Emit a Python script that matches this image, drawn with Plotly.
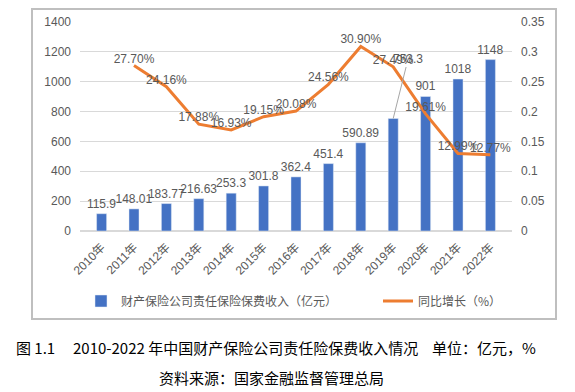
import plotly.graph_objects as go

years = ["2010年", "2011年", "2012年", "2013年", "2014年", "2015年", "2016年",
         "2017年", "2018年", "2019年", "2020年", "2021年", "2022年"]
premium = [115.9, 148.01, 183.77, 216.63, 253.3, 301.8, 362.4, 451.4, 590.89,
           753.3, 901, 1018, 1148]
premium_labels = ["115.9", "148.01", "183.77", "216.63", "253.3", "301.8", "362.4",
                  "451.4", "590.89", "", "901", "1018", "1148"]
growth = [None, 0.2770, 0.2416, 0.1788, 0.1693, 0.1915, 0.2008, 0.2456, 0.3090,
          0.2749, 0.1961, 0.1299, 0.1277]
growth_labels = ["", "27.70%", "24.16%", "17.88%", "16.93%", "19.15%", "20.08%",
                 "24.56%", "30.90%", "27.49%", "19.61%", "12.99%", "12.77%"]

FONT = "Liberation Sans, Noto Sans CJK SC, sans-serif"
CJK = "Noto Sans CJK SC, sans-serif"
GRAY = "#595959"

# plot area on the page: x 80..512, y 22..231
def px(x):
    return (x - 80) / 432

def py(y):
    return (231 - y) / 209

fig = go.Figure()
fig.add_trace(go.Bar(
    x=years, y=premium, name="财产保险公司责任保险保费收入（亿元）",
    marker_color="#4472C4", width=0.31,
    text=premium_labels, textposition="outside", cliponaxis=False,
    constraintext="none", legend="legend",
    textfont=dict(size=12, color=GRAY, family=FONT),
))
fig.add_trace(go.Scatter(
    x=years, y=growth, name="同比增长（%）", yaxis="y2",
    mode="lines+text", line=dict(color="#ED7D31", width=3),
    text=growth_labels, textposition="top center", cliponaxis=False,
    legend="legend2",
    textfont=dict(size=12, color=GRAY, family=FONT),
))

fig.add_annotation(
    x=years[9], y=premium[9], xref="x", yref="y", text="753.3",
    showarrow=True, arrowhead=0, arrowwidth=1, arrowcolor="#a6a6a6",
    ax=15, ay=-60, font=dict(size=12, color=GRAY, family=FONT),
)

# chart border
fig.add_shape(type="rect", xref="paper", yref="paper",
              x0=px(32), x1=px(556), y0=py(319), y1=py(9),
              line=dict(color="#bfbfbf", width=2), fillcolor="rgba(0,0,0,0)",
              layer="above")

cap_font = dict(size=15, color="#000000", family=CJK)
for txt, x0 in [("图 1.1", 15), ("2010-2022 年中国财产保险公司责任险保费收入情况", 72),
                ("单位：亿元，%", 431)]:
    fig.add_annotation(xref="paper", yref="paper", x=px(x0), y=py(347),
                       xanchor="left", yanchor="middle", showarrow=False,
                       text=txt, font=cap_font, borderpad=0)
fig.add_annotation(
    xref="paper", yref="paper", x=px(158), y=py(377),
    xanchor="left", yanchor="middle", showarrow=False, borderpad=0,
    text="资料来源：国家金融监督管理总局", font=cap_font,
)

legend_common = dict(orientation="h", y=py(301),
                     xanchor="left", yanchor="middle",
                     font=dict(size=12, color=GRAY, family=CJK),
                     bgcolor="rgba(0,0,0,0)")

fig.update_layout(
    width=575, height=392,
    margin=dict(l=72, r=71, t=14, b=169, autoexpand=False),
    paper_bgcolor="white", plot_bgcolor="white",
    font=dict(family=FONT, size=12, color=GRAY),
    showlegend=True,
    legend=dict(x=px(81), **legend_common),
    legend2=dict(x=px(378), **legend_common),
    xaxis=dict(tickangle=-45, showgrid=False, showline=False, ticks="",
               ticklabelstandoff=6,
               tickfont=dict(size=12, color=GRAY, family=FONT)),
    yaxis=dict(range=[0, 1400], dtick=200, showgrid=True, gridcolor="#d9d9d9",
               zeroline=True, zerolinecolor="#d9d9d9", showline=False,
               ticklabelstandoff=8,
               tickfont=dict(size=12, color=GRAY)),
    yaxis2=dict(range=[0, 0.35], dtick=0.05, overlaying="y", side="right",
                showgrid=False, zeroline=False, showline=False,
                ticklabelstandoff=8,
                tickfont=dict(size=12, color=GRAY)),
    bargap=0.69,
)

fig.write_html("out.html")
